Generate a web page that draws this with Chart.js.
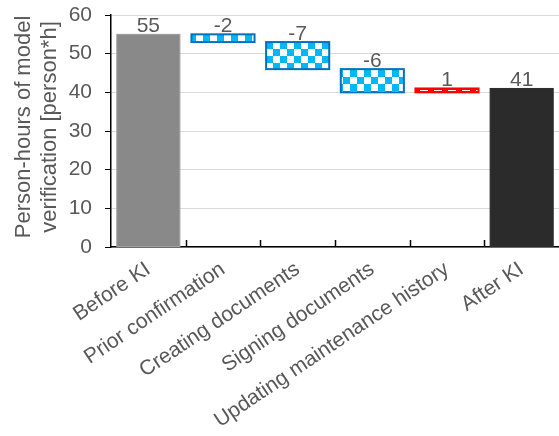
<!DOCTYPE html>
<html lang="en">
<head>
<meta charset="UTF-8">
<title>Person-hours of model verification</title>
<script src="https://cdn.jsdelivr.net/npm/chart.js@4.4.1/dist/chart.umd.min.js"></script>
<style>
  html, body { margin: 0; padding: 0; background: #fff; }
</style>
</head>
<body>
<canvas id="chart" width="559" height="436"></canvas>
<script>
// waterfall data
const categories = ["Before KI", "Prior confirmation", "Creating documents", "Signing documents", "Updating maintenance history", "After KI"];
const changes = [55, -2, -7, -6, 1, 41];
const kinds = ["total", "step", "step", "step", "step", "total"];
const yTitle = ["Person-hours of model", "verification [person*h]"];
const yMin = 0, yMax = 60, yStep = 10;

const FONT = "'Liberation Sans', Arial, sans-serif";
const TEXT = "#595959";

// floating ranges from the running total
const ranges = [];
let running = 0;
changes.forEach((v, i) => {
    if (kinds[i] === "total") {
        ranges.push([0, v]);
        running = v;
    } else {
        ranges.push([running, running + v]);
        running += v;
    }
});

function checker(size, c1, c2) {
    const c = document.createElement("canvas");
    c.width = c.height = size * 2;
    const g = c.getContext("2d");
    g.fillStyle = c2; g.fillRect(0, 0, size * 2, size * 2);
    g.fillStyle = c1;
    g.fillRect(0, 0, size, size);
    g.fillRect(size, size, size, size);
    return g.createPattern(c, "repeat");
}

function dashes() {
    const c = document.createElement("canvas");
    c.width = 14; c.height = 4;
    const g = c.getContext("2d");
    g.fillStyle = "#ff0000"; g.fillRect(0, 0, 14, 4);
    g.fillStyle = "#ffffff"; g.fillRect(0, 2, 8, 1);
    return g.createPattern(c, "repeat");
}

const blueFill = checker(7, "#00b8f5", "#ffffff");
const redFill = dashes();

const fills = changes.map((v, i) => {
    if (i === 0) return "#898989";
    if (kinds[i] === "total") return "#2b2b2b";
    return v < 0 ? blueFill : redFill;
});
const outlines = changes.map((v, i) => {
    if (kinds[i] === "total") return i === 0 ? "#a0a0a0" : "#2b2b2b";
    return v < 0 ? "#0070c0" : "#ff0000";
});

const extras = {
    id: "extras",
    afterDatasetsDraw(chart) {
        // outlines centred on the bar edges, like the original
        const ctx = chart.ctx;
        const bars = chart.getDatasetMeta(0).data;
        ctx.save();
        bars.forEach((b, i) => {
            const p = b.getProps(["x", "y", "base", "width"], true);
            const top = Math.min(p.y, p.base), h = Math.abs(p.base - p.y);
            ctx.strokeStyle = outlines[i];
            ctx.lineWidth = kinds[i] === "total" ? 1 : 2;
            ctx.strokeRect(p.x - p.width / 2, top, p.width, h);
        });
        ctx.restore();
    },
    afterDraw(chart) {
        const ctx = chart.ctx;
        const xs = chart.scales.x, ys = chart.scales.y;
        const area = chart.chartArea;
        ctx.save();
        // inward ticks between categories
        ctx.strokeStyle = "#000";
        ctx.lineWidth = 1.5;
        for (let i = 1; i < categories.length; i++) {
            const x = Math.round((xs.getPixelForValue(i - 1) + xs.getPixelForValue(i)) / 2) + 0.5;
            ctx.beginPath();
            ctx.moveTo(x, area.bottom);
            ctx.lineTo(x, area.bottom - 7);
            ctx.stroke();
        }
        // value labels
        ctx.fillStyle = TEXT;
        ctx.font = "21px " + FONT;
        ctx.textAlign = "center";
        ctx.textBaseline = "alphabetic";
        ranges.forEach((r, i) => {
            const top = ys.getPixelForValue(Math.max(r[0], r[1]));
            ctx.fillText(String(changes[i]), xs.getPixelForValue(i), top - 2);
        });
        // y axis title
        ctx.font = "22px " + FONT;
        ctx.translate(0, (area.top + area.bottom) / 2 - 4);
        ctx.rotate(-Math.PI / 2);
        ctx.fillText(yTitle[0], 0, 30);
        ctx.fillText(yTitle[1], 0, 56);
        ctx.restore();
    }
};

new Chart(document.getElementById("chart"), {
    type: "bar",
    data: {
        labels: categories,
        datasets: [{
            data: ranges,
            backgroundColor: fills,
            borderWidth: 0,
            barPercentage: 0.845,
            categoryPercentage: 1
        }]
    },
    options: {
        responsive: false,
        animation: false,
        devicePixelRatio: 1,
        layout: { padding: { top: 15, right: 0, left: 0, bottom: 0 } },
        plugins: { legend: { display: false }, tooltip: { enabled: false } },
        scales: {
            x: {
                grid: { display: false },
                border: { color: "#000", width: 1.5 },
                ticks: {
                    color: TEXT, font: { size: 21, family: FONT },
                    minRotation: 34, maxRotation: 34, autoSkip: false, padding: 2
                },
                afterFit(s) { s.height = 189; s.paddingLeft = 0; s.paddingRight = 0; }
            },
            y: {
                min: yMin, max: yMax,
                ticks: { stepSize: yStep, color: TEXT, font: { size: 21, family: FONT }, padding: 13 },
                grid: { color: "#d9d9d9", tickColor: "#000", tickLength: 6 },
                border: { color: "#000", width: 1.5 },
                afterFit(s) { s.width = 111; s.paddingTop = 0; s.paddingBottom = 0; }
            }
        }
    },
    plugins: [extras]
});
</script>
</body>
</html>
